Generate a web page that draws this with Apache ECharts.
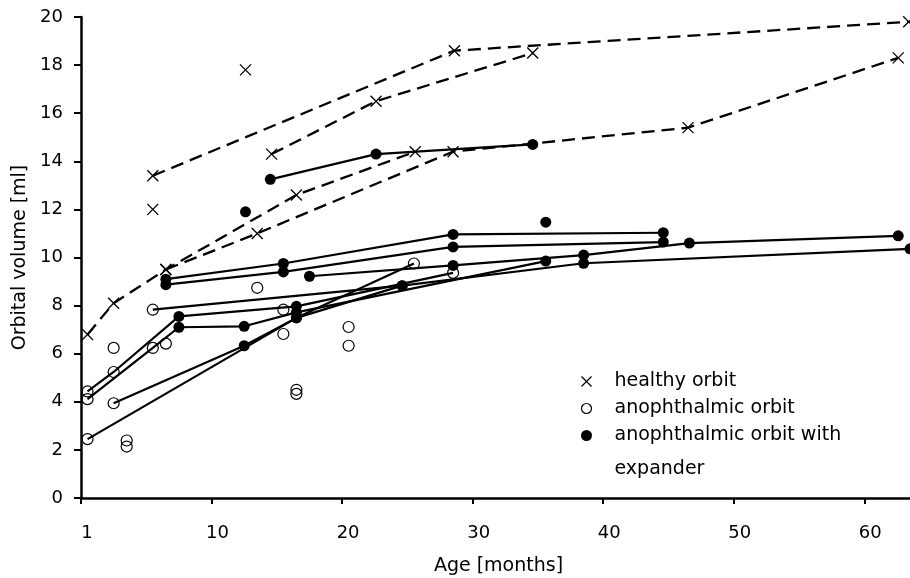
<!DOCTYPE html>
<html>
<head>
<meta charset="utf-8">
<script src="https://cdn.jsdelivr.net/npm/echarts@6/dist/echarts.min.js"></script>
<style>
  html, body { margin: 0; padding: 0; background: #fff; }
  #main { width: 910px; height: 578px; }
</style>
</head>
<body>
<div id="main"></div>
<script>
var chartDom = document.getElementById('main');
var myChart = echarts.init(chartDom, null, { renderer: 'canvas' });

// healthy orbit, one dashed line per child: [age, volume]
var healthyLines = [
  [[5.5, 13.4], [28.6, 18.6], [63.4, 19.8]],
  [[14.6, 14.3], [22.6, 16.5], [34.6, 18.5]],
  [[0.5, 6.8], [2.5, 8.1], [6.5, 9.5], [16.5, 12.6], [25.6, 14.4]],
  [[6.5, 9.5], [13.5, 11.0], [28.5, 14.4], [46.5, 15.4], [62.6, 18.3]]
];
var healthySingles = [[5.5, 12.0], [12.6, 17.8]];

// anophthalmic children, solid lines: [age, volume, 'a' = no expander / 'e' = with expander]
var patientLines = [
  [[14.5, 13.25, 'e'], [22.6, 14.3, 'e'], [34.6, 14.7, 'e']],
  [[6.5, 9.1, 'e'], [15.5, 9.75, 'e'], [28.5, 10.96, 'e'], [44.6, 11.03, 'e']],
  [[6.5, 8.87, 'e'], [15.5, 9.4, 'e'], [28.5, 10.44, 'e'], [44.6, 10.64, 'e']],
  [[17.5, 9.22, 'e'], [28.5, 9.67, 'e'], [38.5, 10.1, 'e'], [46.6, 10.6, 'e'], [62.6, 10.9, 'e']],
  [[5.5, 7.83, 'a'], [24.6, 8.83, 'e'], [38.5, 9.76, 'e'], [63.5, 10.36, 'e']],
  [[0.5, 4.43, 'a'], [2.5, 5.24, 'a'], [7.5, 7.55, 'e'], [16.5, 7.97, 'e'], [28.5, 9.36, 'a']],
  [[0.5, 4.11, 'a'], [5.5, 6.24, 'a'], [7.5, 7.1, 'e'], [12.5, 7.14, 'e'], [16.5, 7.72, 'e'], [35.6, 9.85, 'e']],
  [[2.5, 3.94, 'a'], [12.5, 6.33, 'e'], [16.5, 7.49, 'e'], [24.6, 8.83, 'e']],
  [[0.5, 2.45, 'a'], [16.5, 7.49, 'e'], [25.5, 9.75, 'a']]
];
var anophSingles = [[2.5, 6.24], [6.5, 6.42], [13.5, 8.74], [15.5, 7.83], [15.5, 6.82], [16.5, 4.5], [16.5, 4.33],
  [20.5, 7.11], [20.5, 6.33], [3.5, 2.39], [3.5, 2.14]];
var expanderSingles = [[12.6, 11.9], [35.6, 11.47]];

var xTicks = [0, 10, 20, 30, 40, 50, 60];
var xTickLabels = ['1', '10', '20', '30', '40', '50', '60'];

var crossPath = 'path://M0,0L10,10M10,0L0,10';
var series = [];

healthyLines.forEach(function (pts) {
  series.push({
    type: 'line',
    data: pts,
    showSymbol: false,
    silent: true,
    lineStyle: { color: '#000', width: 2.3, type: [13, 7] },
    z: 2
  });
});
patientLines.forEach(function (pts) {
  series.push({
    type: 'line',
    data: pts.map(function (p) { return [p[0], p[1]]; }),
    showSymbol: false,
    silent: true,
    lineStyle: { color: '#000', width: 2.2 },
    z: 2
  });
});

var healthyPts = [];
healthyLines.forEach(function (l) { l.forEach(function (p) { healthyPts.push(p); }); });
healthySingles.forEach(function (p) { healthyPts.push(p); });

var anophPts = anophSingles.slice();
var expPts = expanderSingles.slice();
patientLines.forEach(function (l) {
  l.forEach(function (p) {
    if (p[2] == 'a') anophPts.push([p[0], p[1]]);
    else expPts.push([p[0], p[1]]);
  });
});

series.push({
  type: 'scatter', name: 'healthy orbit', data: healthyPts, symbol: crossPath, symbolSize: 11,
  itemStyle: { color: 'rgba(0,0,0,0)', borderColor: '#000', borderWidth: 1.3, opacity: 1 }, z: 5
});
series.push({
  type: 'scatter', name: 'anophthalmic orbit', data: anophPts, symbol: 'circle', symbolSize: 11,
  itemStyle: { color: 'rgba(255,255,255,0)', borderColor: '#000', borderWidth: 1.2, opacity: 1 }, z: 5
});
series.push({
  type: 'scatter', name: 'anophthalmic orbit with expander', data: expPts, symbol: 'circle', symbolSize: 11,
  itemStyle: { color: '#000', opacity: 1 }, z: 5
});

var font = 'DejaVu Sans';
var legendFont = '19px "DejaVu Sans"';
var option = {
  animation: false,
  grid: { left: 81, right: 0, top: 17, bottom: 80, outerBoundsMode: 'none' },
  xAxis: {
    type: 'value', min: 0, max: 63.5, interval: 10,
    name: 'Age [months]', nameLocation: 'middle', nameGap: 59,
    nameTextStyle: { fontFamily: font, fontSize: 19, color: '#000', padding: [0, 0, 0, 6] },
    axisLine: { lineStyle: { color: '#000', width: 2.5 } },
    axisTick: { length: 6, lineStyle: { color: '#000', width: 2 } },
    axisLabel: {
      fontFamily: font, fontSize: 18, color: '#000', margin: 26, padding: [0, 0, 0, 12],
      showMaxLabel: false,
      formatter: function (v) { var i = xTicks.indexOf(v); return i >= 0 ? xTickLabels[i] : ''; }
    },
    splitLine: { show: false }
  },
  yAxis: {
    type: 'value', min: 0, max: 20, interval: 2,
    name: 'Orbital volume [ml]', nameLocation: 'middle', nameGap: 50,
    nameTextStyle: { fontFamily: font, fontSize: 19, color: '#000' },
    axisLine: { show: true, lineStyle: { color: '#000', width: 2.5 } },
    axisTick: { show: true, length: 7, lineStyle: { color: '#000', width: 2 } },
    axisLabel: { fontFamily: font, fontSize: 18, color: '#000', margin: 18 },
    splitLine: { show: false }
  },
  graphic: [
    { type: 'group', left: 579, top: 372, children: [
      { type: 'polyline', shape: { points: [[0, 0], [10, 10]] }, style: { stroke: '#000', lineWidth: 1.3 } },
      { type: 'polyline', shape: { points: [[10, 0], [0, 10]] }, style: { stroke: '#000', lineWidth: 1.3 } },
      { type: 'circle', shape: { cx: 5, cy: 32, r: 5 }, style: { fill: 'none', stroke: '#000', lineWidth: 1.2 } },
      { type: 'circle', shape: { cx: 5, cy: 59, r: 5.5 }, style: { fill: '#000' } },
      { type: 'text', x: 33, y: 5, style: { text: 'healthy orbit', font: legendFont, fill: '#000', verticalAlign: 'middle' } },
      { type: 'text', x: 33, y: 32, style: { text: 'anophthalmic orbit', font: legendFont, fill: '#000', verticalAlign: 'middle' } },
      { type: 'text', x: 33, y: 59, style: { text: 'anophthalmic orbit with', font: legendFont, fill: '#000', verticalAlign: 'middle' } },
      { type: 'text', x: 33, y: 93, style: { text: 'expander', font: legendFont, fill: '#000', verticalAlign: 'middle' } }
    ] }
  ],
  series: series
};
myChart.setOption(option);
</script>
</body>
</html>
